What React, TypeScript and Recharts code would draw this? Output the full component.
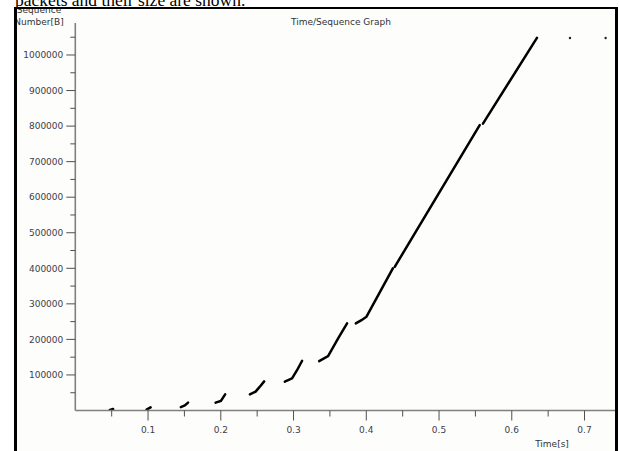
import React from "react";
import {
  ComposedChart,
  Line,
  Scatter,
  XAxis,
  YAxis,
} from "recharts";

// bursts of segments (t in s, v in bytes)
const burst1 = [
  { t: 0.0475, v: 1500 },
  { t: 0.052, v: 4000 },
];
const burst2 = [
  { t: 0.098, v: 2500 },
  { t: 0.1035, v: 9000 },
];
const burst3 = [
  { t: 0.145, v: 9500 },
  { t: 0.1505, v: 14000 },
  { t: 0.155, v: 22000 },
];
const burst4 = [
  { t: 0.1929, v: 22000 },
  { t: 0.2001, v: 26700 },
  { t: 0.206, v: 45500 },
];
const burst5 = [
  { t: 0.24, v: 45500 },
  { t: 0.2478, v: 53000 },
  { t: 0.2537, v: 67000 },
  { t: 0.2596, v: 82000 },
];
const burst6 = [
  { t: 0.288, v: 81000 },
  { t: 0.298, v: 90500 },
  { t: 0.305, v: 114000 },
  { t: 0.3118, v: 140000 },
];
const burst7 = [
  { t: 0.3352, v: 139000 },
  { t: 0.3475, v: 153000 },
  { t: 0.3613, v: 203000 },
  { t: 0.3736, v: 245000 },
];
const burst8 = [
  { t: 0.3856, v: 245000 },
  { t: 0.3934, v: 254000 },
  { t: 0.4003, v: 264000 },
  { t: 0.4365, v: 400000 },
];
const burst9 = [
  { t: 0.4391, v: 404000 },
  { t: 0.5559, v: 803000 },
];
const burst10 = [
  { t: 0.5604, v: 807000 },
  { t: 0.6346, v: 1048000 },
];
const tailDots = [
  { t: 0.68, v: 1048000 },
  { t: 0.729, v: 1048000 },
];

const bursts = [burst1, burst2, burst3, burst4, burst5, burst6, burst7, burst8, burst9, burst10];

const xMajor = [0.1, 0.2, 0.3, 0.4, 0.5, 0.6, 0.7];
const xMinor = [0.05, 0.15, 0.25, 0.35, 0.45, 0.55, 0.65];
const yMajor = [100000, 200000, 300000, 400000, 500000, 600000, 700000, 800000, 900000, 1000000];
const yMinor = [50000, 150000, 250000, 350000, 450000, 550000, 650000, 750000, 850000, 950000, 1050000];

const FONT = "'DejaVu Sans', sans-serif";
const LABEL = "#40404a";
const AXIS = "#808080";

const isMajor = (list: number[], val: number) =>
  list.some((m) => Math.abs(m - val) < 1e-9);

function XTick({ x, y, payload }: any) {
  const major = isMajor(xMajor, payload.value);
  return (
    <g>
      <line x1={x} y1={y} x2={x} y2={y + (major ? 10 : 6)} stroke="#505050" strokeWidth={1} />
      {major && (
        <text x={x} y={y + 22} textAnchor="middle" fontFamily={FONT} fontSize={9} fill={LABEL}>
          {payload.value.toFixed(1)}
        </text>
      )}
    </g>
  );
}

function YTick({ x, y, payload }: any) {
  const major = isMajor(yMajor, payload.value);
  return (
    <g>
      <line x1={x - (major ? 9 : 5)} y1={y} x2={x} y2={y} stroke="#505050" strokeWidth={1} />
      {major && (
        <text x={x - 12} y={y + 3.3} textAnchor="end" fontFamily={FONT} fontSize={9} fill={LABEL}>
          {payload.value}
        </text>
      )}
    </g>
  );
}

// page coords -> coords inside the frame (frame content starts at 17, 9)
const txt = (cx: number, top: number, w: number): React.CSSProperties => ({
  position: "absolute",
  left: cx - 17 - w / 2,
  top: top - 9,
  width: w,
  textAlign: "center",
  fontFamily: FONT,
  fontSize: 9,
  color: "#333",
  whiteSpace: "nowrap",
  lineHeight: "11px",
});

export default function App() {
  return (
    <div style={{ position: "absolute", left: 0, top: 0, width: 619, height: 451, overflow: "hidden", background: "#fff" }}>
      <div
        style={{
          position: "absolute",
          left: 15,
          top: -5.5,
          fontFamily: "'Liberation Serif', 'Times New Roman', serif",
          fontSize: 17.5,
          lineHeight: "10px",
          color: "#000",
          whiteSpace: "nowrap",
        }}
      >
        packets and their size are shown.
      </div>
      <div
        style={{
          position: "absolute",
          left: 14,
          top: 7,
          width: 604,
          height: 470,
          boxSizing: "border-box",
          borderLeft: "3px solid #000",
          borderRight: "3px solid #000",
          borderTop: "2px solid #000",
          background: "#fdfdfc",
          overflow: "hidden",
        }}
      >
        <div style={{ position: "absolute", left: -17, top: -9, width: 619, height: 451 }}>
          <ComposedChart
            width={619}
            height={451}
            margin={{ top: 23, right: 1.3, bottom: 0, left: 0 }}
          >
            <XAxis
              type="number"
              dataKey="t"
              domain={[0, 0.7456]}
              allowDataOverflow
              ticks={[...xMinor, ...xMajor].sort((a, b) => a - b)}
              interval={0}
              height={40.5}
              tickSize={0}
              tickMargin={0}
              tickLine={false}
              axisLine={{ stroke: AXIS, strokeWidth: 1.6 }}
              tick={<XTick />}
            />
            <YAxis
              type="number"
              dataKey="v"
              domain={[0, 1090000]}
              allowDataOverflow
              ticks={[...yMinor, ...yMajor].sort((a, b) => a - b)}
              interval={0}
              width={75.3}
              tickSize={0}
              tickMargin={0}
              tickLine={false}
              axisLine={{ stroke: AXIS, strokeWidth: 1.6 }}
              tick={<YTick />}
            />
            {bursts.map((b, i) => (
              <Line
                key={i}
                data={b}
                dataKey="v"
                type="linear"
                stroke="#000"
                strokeWidth={2.5}
                strokeLinecap="round"
                dot={false}
                activeDot={false}
                isAnimationActive={false}
              />
            ))}
            <Scatter
              data={tailDots}
              dataKey="v"
              fill="#222"
              isAnimationActive={false}
              shape={(p: any) => <circle cx={p.cx} cy={p.cy} r={1.2} fill="#222" />}
            />
          </ComposedChart>
        </div>
        <div style={txt(39, 5, 96)}>Sequence</div>
        <div style={txt(39, 17, 96)}>Number[B]</div>
        <div style={txt(341, 17, 140)}>Time/Sequence Graph</div>
        <div style={txt(552, 439, 60)}>Time[s]</div>
      </div>
    </div>
  );
}
